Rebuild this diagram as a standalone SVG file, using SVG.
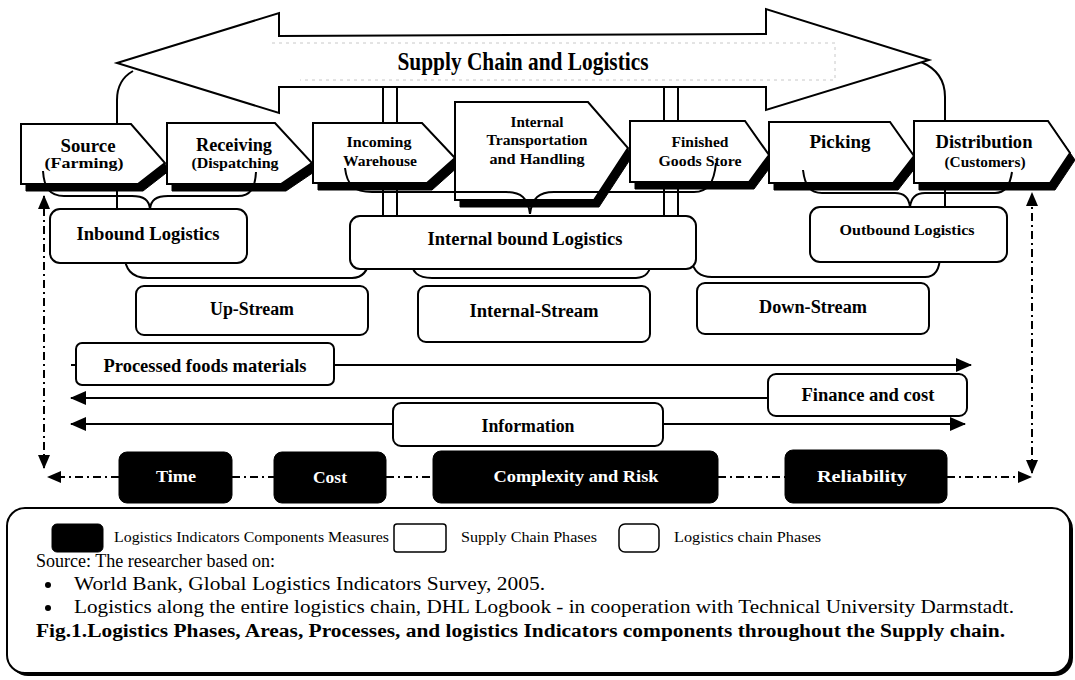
<svg xmlns="http://www.w3.org/2000/svg" width="1075" height="680" viewBox="0 0 1075 680">
<defs>
<style>
.ln{fill:none;stroke:#000;stroke-width:2}
.bx{fill:#fff;stroke:#000;stroke-width:2}
.sh{fill:#000;stroke:#000;stroke-width:1}
.blk{fill:#000;stroke:#000;stroke-width:1}
.dd{fill:none;stroke:#000;stroke-width:2;stroke-dasharray:8 4 2 4}
.t{font-family:"Liberation Serif","Times New Roman",serif;font-weight:bold;text-anchor:middle;fill:#000}
.tw{font-family:"Liberation Serif","Times New Roman",serif;font-weight:bold;text-anchor:middle;fill:#fff}
.r{font-family:"Liberation Serif","Times New Roman",serif;font-weight:normal;fill:#000}
.rb{font-family:"Liberation Serif","Times New Roman",serif;font-weight:bold;fill:#000}
.faint{fill:none;stroke:#c8c8c8;stroke-width:1;stroke-dasharray:3 4}
</style>
<marker id="arr" viewBox="0 0 16 14" refX="15" refY="7" markerWidth="16" markerHeight="14" orient="auto-start-reverse" markerUnits="userSpaceOnUse"><path d="M0,0 L16,7 L0,14 Z" fill="#000"/></marker>
<marker id="sarr" viewBox="0 0 14 12" refX="13" refY="6" markerWidth="14" markerHeight="12" orient="auto-start-reverse" markerUnits="userSpaceOnUse"><path d="M0,0 L14,6 L0,12 Z" fill="#000"/></marker>
</defs>
<rect width="1075" height="680" fill="#fff"/>

<g id="connectors-back">
<path class="ln" d="M133,71 Q117,80 117,100 L117,124"/>
<path class="ln" d="M921,62 Q945,72 945,97 L945,121"/>
<path class="ln" d="M383,87 L383,123 M397,87 L397,123"/>
<path class="ln" d="M664,87 L664,121 M678,87 L678,121"/>
<path class="ln" d="M383,188 L383,216 M397,188 L397,216"/>
<path class="ln" d="M664,188 L664,216 M678,188 L678,216"/>
<path class="ln" d="M117,190 L117,209"/>
<path class="ln" d="M945,188 L945,207"/>
<path class="ln" d="M124,250 C124,270 132,278 148,278 L352,278 C362,278 368,272 370,258"/>
<path class="ln" d="M410,258 C412,273 418,278 432,278 L636,278 C646,278 651,272 652,258"/>
<path class="ln" d="M690,258 C694,272 700,277 712,277 L925,277 C935,277 940,270 940,255"/>
</g>

<g id="supply-chain-arrow">
<polygon class="bx" points="117,63 279,13 279,36 766,34 766,9 929,60 766,110 766,87 279,87 279,113"/>
<path class="faint" d="M272,43 L835,43 L835,80 L300,80"/>
<text class="t" x="523" y="70" font-size="26" textLength="251" lengthAdjust="spacingAndGlyphs">Supply Chain and Logistics</text>
</g>

<g id="phase-source">
<polygon class="sh" points="26,131 136,131 170,170 143,191 26,191"/>
<polygon class="bx" points="21,124 131,124 165,163 138,184 21,184"/>
<text class="t" x="88" y="152" font-size="18" textLength="55" lengthAdjust="spacingAndGlyphs">Source</text>
<text class="t" x="84" y="168" font-size="14" textLength="79" lengthAdjust="spacingAndGlyphs">(Farming)</text>
</g>
<g id="phase-receiving">
<polygon class="sh" points="172,130 280,130 317,170 286,191 172,191"/>
<polygon class="bx" points="167,123 275,123 312,163 281,184 167,184"/>
<text class="t" x="234" y="151" font-size="18" textLength="76" lengthAdjust="spacingAndGlyphs">Receiving</text>
<text class="t" x="235" y="168" font-size="14" textLength="87" lengthAdjust="spacingAndGlyphs">(Dispatching</text>
</g>
<g id="phase-incoming">
<polygon class="sh" points="318,130 427,130 460,165 432,190 318,190"/>
<polygon class="bx" points="313,123 422,123 455,158 427,183 313,183"/>
<text class="t" x="379" y="147" font-size="15" textLength="65" lengthAdjust="spacingAndGlyphs">Incoming</text>
<text class="t" x="380" y="166" font-size="15" textLength="74" lengthAdjust="spacingAndGlyphs">Warehouse</text>
</g>
<g id="phase-internal-transport">
<polygon class="sh" points="460,109 593,109 633,155 599,207 460,207"/>
<polygon class="bx" points="455,102 588,102 628,148 594,200 455,200"/>
<text class="t" x="537" y="127" font-size="15" textLength="53" lengthAdjust="spacingAndGlyphs">Internal</text>
<text class="t" x="537" y="145" font-size="15" textLength="101" lengthAdjust="spacingAndGlyphs">Transportation</text>
<text class="t" x="537" y="164" font-size="15" textLength="95" lengthAdjust="spacingAndGlyphs">and Handling</text>
</g>
<g id="phase-finished">
<polygon class="sh" points="635,128 750,128 774,162 754,189 635,189"/>
<polygon class="bx" points="630,121 745,121 769,155 749,182 630,182"/>
<text class="t" x="700" y="147" font-size="15" textLength="57" lengthAdjust="spacingAndGlyphs">Finished</text>
<text class="t" x="700" y="166" font-size="15" textLength="83" lengthAdjust="spacingAndGlyphs">Goods Store</text>
</g>
<g id="phase-picking">
<polygon class="sh" points="774,129 895,129 919,163 898,190 774,190"/>
<polygon class="bx" points="769,122 890,122 914,156 893,183 769,183"/>
<text class="t" x="840" y="148" font-size="18" textLength="61" lengthAdjust="spacingAndGlyphs">Picking</text>
</g>
<g id="phase-distribution">
<polygon class="sh" points="919,128 1053,128 1075,160 1055,190 919,190"/>
<polygon class="bx" points="914,121 1048,121 1070,153 1050,183 914,183"/>
<text class="t" x="984" y="148" font-size="18" textLength="97" lengthAdjust="spacingAndGlyphs">Distribution</text>
<text class="t" x="985" y="167" font-size="14" textLength="81" lengthAdjust="spacingAndGlyphs">(Customers)</text>
</g>

<g id="connectors-braces">
<path class="ln" d="M43,171 C44,188 50,196 64,196 L132,196 C144,196 149,200 150,209 C151,200 156,196 168,196 L238,196 C250,196 255,189 256,172"/>
<path class="ln" d="M345,168 C347,185 354,192 372,192 L506,192 C521,192 528,198 530,214 C532,198 539,192 554,192 L694,192 C708,192 714,183 716,163"/>
<path class="ln" d="M803,170 C805,186 810,193 822,193 L895,193 C904,193 909,198 910,207 C911,198 916,193 925,193 L995,193 C1005,193 1010,186 1012,172"/>
</g>

<g id="inbound-logistics">
<rect class="bx" x="50" y="209" width="197" height="54" rx="10"/>
<text class="t" x="148" y="240" font-size="18" textLength="143" lengthAdjust="spacingAndGlyphs">Inbound Logistics</text>
</g>
<g id="internal-bound-logistics">
<rect class="bx" x="350" y="216" width="346" height="53" rx="10"/>
<text class="t" x="525" y="245" font-size="18" textLength="195" lengthAdjust="spacingAndGlyphs">Internal bound Logistics</text>
</g>
<g id="outbound-logistics">
<rect class="bx" x="810" y="207" width="197" height="55" rx="10"/>
<text class="t" x="907" y="235" font-size="15" textLength="135" lengthAdjust="spacingAndGlyphs">Outbound Logistics</text>
</g>

<g id="up-stream">
<rect class="bx" x="136" y="286" width="232" height="49" rx="8"/>
<text class="t" x="252" y="315" font-size="18" textLength="84" lengthAdjust="spacingAndGlyphs">Up-Stream</text>
</g>
<g id="internal-stream">
<rect class="bx" x="418" y="286" width="232" height="56" rx="8"/>
<text class="t" x="534" y="317" font-size="18" textLength="129" lengthAdjust="spacingAndGlyphs">Internal-Stream</text>
</g>
<g id="down-stream">
<rect class="bx" x="697" y="283" width="232" height="51" rx="8"/>
<text class="t" x="813" y="313" font-size="18" textLength="108" lengthAdjust="spacingAndGlyphs">Down-Stream</text>
</g>

<g id="connectors-flows">
<path class="ln" d="M71,365 L971,365" marker-end="url(#arr)"/>
<path class="ln" d="M769,398 L71,398" marker-end="url(#arr)"/>
<path class="ln" d="M71,424 L965,424" marker-start="url(#arr)" marker-end="url(#arr)"/>
</g>

<g id="processed-foods">
<rect class="bx" x="76" y="343" width="258" height="42" rx="6"/>
<text class="t" x="205" y="372" font-size="18" textLength="203" lengthAdjust="spacingAndGlyphs">Processed foods materials</text>
</g>
<g id="finance-cost">
<rect class="bx" x="768" y="374" width="199" height="42" rx="8"/>
<text class="t" x="868" y="401" font-size="18" textLength="133" lengthAdjust="spacingAndGlyphs">Finance and cost</text>
</g>
<g id="information">
<rect class="bx" x="393" y="403" width="270" height="43" rx="8"/>
<text class="t" x="528" y="432" font-size="18" textLength="93" lengthAdjust="spacingAndGlyphs">Information</text>
</g>

<g id="connectors-indicators">
<path class="dd" d="M44,468 L44,196" marker-start="url(#sarr)" marker-end="url(#sarr)"/>
<path class="dd" d="M1032,473 L1032,193" marker-start="url(#sarr)" marker-end="url(#sarr)"/>
<path class="dd" d="M119,477 L48,477" marker-end="url(#sarr)"/>
<path class="dd" d="M232,477 L274,477"/>
<path class="dd" d="M386,477 L433,477"/>
<path class="dd" d="M718,477 L785,477"/>
<path class="dd" d="M947,477 L1031,477" marker-end="url(#sarr)"/>
</g>

<g id="time">
<rect class="blk" x="119" y="452" width="113" height="51" rx="8"/>
<text class="tw" x="176" y="482" font-size="17" textLength="40" lengthAdjust="spacingAndGlyphs">Time</text>
</g>
<g id="cost">
<rect class="blk" x="274" y="452" width="112" height="51" rx="8"/>
<text class="tw" x="330" y="483" font-size="17" textLength="34" lengthAdjust="spacingAndGlyphs">Cost</text>
</g>
<g id="complexity-risk">
<rect class="blk" x="433" y="451" width="285" height="52" rx="8"/>
<text class="tw" x="576" y="482" font-size="17" textLength="165" lengthAdjust="spacingAndGlyphs">Complexity and Risk</text>
</g>
<g id="reliability">
<rect class="blk" x="785" y="450" width="162" height="53" rx="8"/>
<text class="tw" x="862" y="482" font-size="17" textLength="90" lengthAdjust="spacingAndGlyphs">Reliability</text>
</g>

<g id="legend">
<rect x="10" y="511" width="1063" height="165" rx="18" fill="#000"/>
<rect class="bx" x="7" y="508" width="1063" height="165" rx="18"/>
<rect class="blk" x="52" y="524" width="51" height="28" rx="5"/>
<text class="r" x="114" y="542" font-size="14" textLength="275" lengthAdjust="spacingAndGlyphs">Logistics Indicators Components Measures</text>
<rect class="bx" x="394" y="524" width="52" height="28" rx="3" style="stroke-width:1.5"/>
<text class="r" x="461" y="542" font-size="14" textLength="136" lengthAdjust="spacingAndGlyphs">Supply Chain Phases</text>
<rect class="bx" x="619" y="524" width="40" height="28" rx="6" style="stroke-width:1.5"/>
<text class="r" x="674" y="542" font-size="14" textLength="147" lengthAdjust="spacingAndGlyphs">Logistics chain Phases</text>
<text class="r" x="36" y="567" font-size="18" textLength="239" lengthAdjust="spacingAndGlyphs">Source: The researcher based on:</text>
<circle cx="48" cy="585" r="3" fill="#000"/>
<text class="r" x="74" y="590" font-size="18" textLength="471" lengthAdjust="spacingAndGlyphs">World Bank, Global Logistics Indicators Survey, 2005.</text>
<circle cx="48" cy="608" r="3" fill="#000"/>
<text class="r" x="74" y="613" font-size="18" textLength="940" lengthAdjust="spacingAndGlyphs">Logistics along the entire logistics chain, DHL Logbook - in cooperation with Technical University Darmstadt.</text>
<text class="rb" x="36" y="637" font-size="18" textLength="969" lengthAdjust="spacingAndGlyphs">Fig.1.Logistics Phases, Areas, Processes, and logistics Indicators components throughout the Supply chain.</text>
</g>
</svg>
